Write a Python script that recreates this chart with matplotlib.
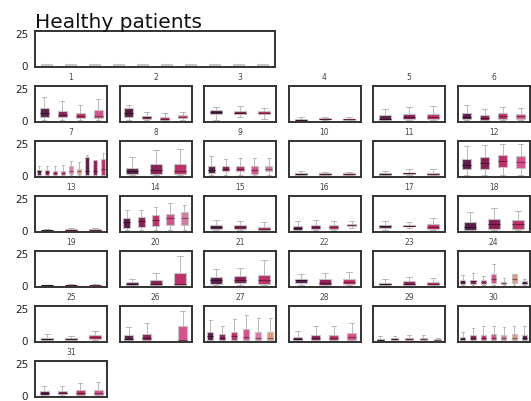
import matplotlib.pyplot as plt

# box colours, cycled per box within a panel
palette = ['#5b1e4b', '#8a2056', '#c1306b', '#d9508f', '#d87aa6', '#e8957f']

# every box is (whisker low, q1, median, q3, whisker high); None = empty slot
header_boxes = [(0, 0, 0, 0, 0)] * 10

panel_01 = [(0, 2.6, 5.8, 9.2, 18.4), (0, 2.1, 4.0, 7.1, 15.0), (0, 1.8, 3.4, 5.8, 11.8), (0, 1.8, 3.4, 7.9, 16.8)]
panel_02 = [(0, 2.6, 5.8, 9.2, 11.8), (0, 1.3, 2.6, 3.4, 6.6), (0, 0, 1.3, 2.6, 5.8), (0, 1.8, 2.6, 3.9, 6.6)]
panel_03 = [(0, 4.5, 6.6, 7.9, 10.5), (2.6, 4.5, 6.0, 7.4, 11.3), (0.8, 4.5, 5.5, 6.8, 9.7)]
panel_04 = [(0, 0, 0.5, 1.3, 2.6), (0, 0.8, 1.3, 1.8, 2.6), (0, 0, 0.8, 1.3, 2.6)]
panel_05 = [(0, 0, 1.3, 3.7, 8.9), (0, 0.8, 2.6, 5.0, 10.5), (0, 0.8, 2.4, 5.0, 11.3)]
panel_06 = [(0, 1.3, 2.4, 5.5, 11.8), (0, 0.5, 1.8, 3.9, 8.9), (0, 1.3, 3.2, 5.3, 10.5), (0, 1.3, 3.2, 5.0, 9.7)]
panel_07 = [(0, 0, 3.0, 4.3, 7.5), (0, 0, 2.3, 4.3, 7.5), (0, 0, 2.0, 3.0, 6.8),
            (0, 0, 2.0, 3.5, 8.0), (0, 0.8, 3.0, 7.0, 11.0), (0, 0.8, 3.0, 5.0, 10.0),
            (0, 0, 3.0, 14.0, 15.5), (0, 0, 3.0, 11.8, 11.8), (0, 0, 5.0, 12.3, 17.5)]
panel_08 = [(0, 0.8, 3.0, 6.0, 14.5), (0, 0.8, 3.8, 8.5, 20.0), (0, 0.8, 3.0, 8.5, 20.5)]
panel_09 = [(0, 1.8, 4.3, 7.3, 15.0), (0, 3.5, 5.0, 7.5, 13.0), (0, 3.0, 5.0, 7.5, 13.5),
            (0, 1.3, 4.3, 6.8, 13.5), (0, 3.0, 4.8, 7.5, 13.8)]
panel_10 = [(0, 0, 0.8, 1.5, 3.0), (0, 0, 0.8, 1.5, 2.8), (0, 0, 0.8, 1.5, 2.8)]
panel_11 = [(0, 0, 0.8, 1.5, 3.0), (0, 0.8, 1.5, 2.0, 5.0), (0, 0, 1.0, 1.8, 5.0)]
panel_12 = [(0, 4.5, 8.3, 12.5, 23.0), (0, 4.5, 9.5, 14.0, 24.0), (0, 6.3, 10.8, 15.8, 24.5), (0, 5.8, 10.3, 15.0, 24.5)]
panel_13 = [(0, 0, 0.2, 0.4, 0.8), (0, 0, 0.5, 0.8, 1.8), (0, 0, 0.5, 1.0, 2.0)]
panel_14 = [(0, 1.8, 6.4, 9.5, 16.0), (0, 2.6, 7.0, 10.3, 16.0), (0, 3.0, 7.7, 11.5, 18.0),
            (0, 3.8, 9.5, 12.8, 21.0), (0, 3.8, 9.5, 14.6, 20.0)]
panel_15 = [(0, 1.3, 2.6, 4.4, 7.7), (0, 1.3, 2.6, 3.8, 7.0), (0, 0, 1.3, 2.6, 6.4)]
panel_16 = [(0, 0.5, 1.8, 3.3, 7.2), (0, 1.3, 2.6, 4.1, 8.0), (0, 1.3, 2.8, 4.1, 7.2), (1.5, 3.0, 4.1, 5.1, 7.0)]
panel_17 = [(0, 1.8, 3.0, 4.1, 7.0), (1.5, 3.0, 3.6, 4.4, 6.2), (0, 1.3, 2.6, 4.9, 9.5)]
panel_18 = [(0, 0.5, 2.6, 6.4, 14.0), (0, 1.3, 5.1, 9.0, 17.5), (0, 1.3, 4.6, 8.2, 15.4)]
panel_19 = [(0, 0, 0, 0, 0), (0, 0, 0.2, 0.5, 1.0), (0, 0, 0.2, 0.5, 1.0)]
panel_20 = [(0, 0, 1.3, 2.3, 5.1), (0, 0, 1.3, 3.8, 9.5), (0, 0, 1.3, 9.5, 22.5)]
panel_21 = [(0, 1.3, 3.8, 6.4, 12.8), (0, 2.0, 4.4, 6.9, 13.3), (0, 0.8, 4.4, 8.2, 19.7)]
panel_22 = [(0, 1.8, 3.8, 5.1, 9.0), (0, 0.5, 1.8, 4.6, 9.7), (0, 1.3, 2.6, 5.1, 10.3)]
panel_23 = [(0, 0, 0.8, 1.8, 5.1), (0, 0, 1.3, 3.1, 6.4), (0, 0.5, 1.3, 2.6, 5.9)]
panel_24 = [(0, 1.3, 2.6, 4.4, 7.7), (0, 1.3, 3.1, 4.4, 9.5), (0, 1.3, 2.6, 3.8, 7.2),
            (0, 1.8, 5.1, 9.0, 16.7), (0, 0.8, 1.8, 2.6, 5.6), (0, 1.8, 5.1, 8.5, 9.0),
            (0, 1.3, 2.0, 3.1, 5.1)]
panel_25 = [(0, 0, 0.8, 2.0, 5.1), (0, 0, 0.8, 1.5, 3.3), (0, 0.8, 2.3, 3.8, 7.2)]
panel_26 = [(0, 0, 0.8, 4.1, 10.5), (0, 0, 2.0, 5.1, 13.6), None, (0, 0, 0.5, 11.0, 22.5)]
panel_27 = [(0, 0, 3.3, 6.7, 15.6), (0, 0, 1.5, 4.6, 11.0), (0, 0, 3.3, 6.4, 16.7),
            (0, 0, 2.8, 9.0, 20.0), (0, 0, 2.0, 6.7, 17.4), (0, 0, 2.0, 6.7, 17.4)]
panel_28 = [(0, 0, 0.8, 2.6, 7.2), (0, 0, 2.0, 4.4, 11.0), (0, 0, 2.0, 4.4, 11.0), (0, 0, 2.6, 5.9, 13.6)]
panel_29 = [(0, 0, 0.5, 1.3, 3.3), (0, 0.3, 0.8, 1.5, 3.3), (0, 0, 0.8, 1.5, 4.4),
            (0, 0, 0.8, 1.5, 4.1), (0, 0, 0.3, 0.8, 2.0)]
panel_30 = [(0, 0, 0.8, 2.6, 6.7), (0, 0, 1.5, 3.8, 9.7), (0, 0, 2.0, 4.1, 11.0),
            (0, 0, 1.5, 4.6, 11.0), (0, 0, 2.0, 3.8, 10.5), (0, 0, 2.0, 4.6, 11.0),
            (0, 0, 2.0, 4.1, 11.0)]
panel_31 = [(0, 0.5, 1.8, 3.3, 7.2), (0, 0.8, 2.0, 3.6, 7.2), (0, 0.5, 2.0, 4.1, 9.7), (0, 0.5, 2.0, 4.1, 10.3)]

panels = [panel_01, panel_02, panel_03, panel_04, panel_05, panel_06, panel_07, panel_08,
          panel_09, panel_10, panel_11, panel_12, panel_13, panel_14, panel_15, panel_16,
          panel_17, panel_18, panel_19, panel_20, panel_21, panel_22, panel_23, panel_24,
          panel_25, panel_26, panel_27, panel_28, panel_29, panel_30, panel_31]
panel_titles = [str(i + 1) for i in range(len(panels))]

W, H = 531, 402
fig = plt.figure(figsize=(W / 100, H / 100), dpi=100)


def rect(x, y, w, h):
    return [x / W, 1 - (y + h) / H, w / W, h / H]


def darker(c, f=0.6):
    r, g, b = plt.matplotlib.colors.to_rgb(c)
    return (r * f, g * f, b * f)


def draw_boxes(ax, boxes, fill=True):
    stats, pos, cols = [], [], []
    for i, b in enumerate(boxes):
        if b is None:
            continue
        lo, q1, med, q3, hi = b
        stats.append(dict(whislo=lo, q1=q1, med=med, q3=q3, whishi=hi))
        pos.append(i)
        cols.append(palette[i % len(palette)])
    res = ax.bxp(stats, positions=pos, widths=0.5, patch_artist=True, showfliers=False,
                 boxprops=dict(edgecolor='#c4c4c4', linewidth=0.8),
                 whiskerprops=dict(color='#b0b0b0', linewidth=0.6),
                 capprops=dict(color='#b0b0b0', linewidth=0.6),
                 medianprops=dict(linewidth=0.8))
    for patch, med, c in zip(res['boxes'], res['medians'], cols):
        if fill:
            patch.set_facecolor(c)
            med.set_color(darker(c))
        else:
            patch.set_facecolor('#c8c8c8')
            med.set_color('#c8c8c8')
            med.set_linewidth(1.5)
    ax.set_xlim(-0.5, len(boxes) - 0.5)


def style(ax, show_y):
    ax.set_ylim(-1.2, 27)
    ax.set_xticks([])
    if show_y:
        ax.set_yticks([0, 25])
        ax.tick_params(axis='y', length=0, pad=5, labelsize=7.5, labelcolor='#222')
    else:
        ax.set_yticks([])
    for s in ax.spines.values():
        s.set_color('#333333')
        s.set_linewidth(1.4)


top = fig.add_axes(rect(35, 31.7, 240, 36))
draw_boxes(top, header_boxes, fill=False)
style(top, True)
top.set_title('Healthy patients', loc='left', fontsize=14.5, pad=3, color='#111')

for k, boxes in enumerate(panels):
    row = k // 6 + 1
    col = k % 6
    ax = fig.add_axes(rect(35 + 84.5 * col, 31.7 + 55 * row, 72, 36))
    draw_boxes(ax, boxes)
    style(ax, col == 0)
    ax.set_title(panel_titles[k], fontsize=5.5, color='#444', pad=5)

fig.savefig('out.png', dpi=100)
